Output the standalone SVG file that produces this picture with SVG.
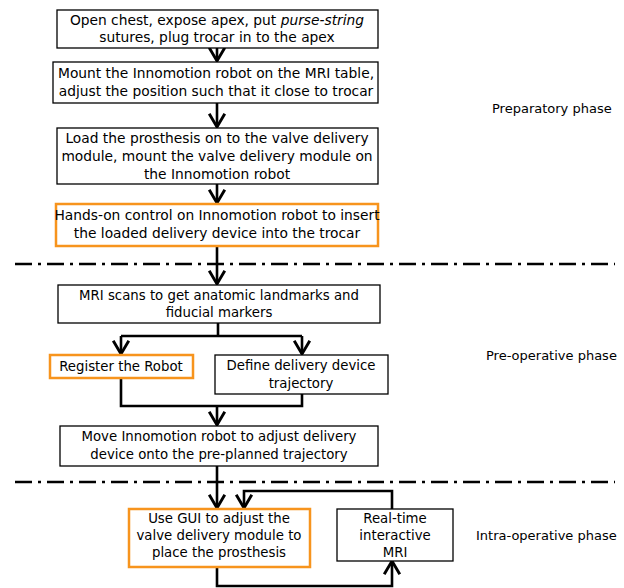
<svg xmlns="http://www.w3.org/2000/svg" width="624" height="588" viewBox="0 0 624 588">
<style>
.box{fill:#fff;stroke:#000;stroke-width:1.3}
.hl{fill:#fff;stroke:#F7941D;stroke-width:2.5}
text{font-family:"DejaVu Sans",Verdana,sans-serif;font-size:13.8px;fill:#000;text-anchor:middle}
.lo text{font-size:13.3px}
text.lbl{font-size:13px;text-anchor:start}
.c{fill:none;stroke:#000;stroke-width:2.6}
.dd{fill:none;stroke:#000;stroke-width:2.6;stroke-dasharray:17 6 3 6}
</style>
<defs>
<marker id="v" markerUnits="userSpaceOnUse" markerWidth="20" markerHeight="20" viewBox="-13 -9 15 18" refX="0" refY="0" orient="auto">
<path d="M-12,-7 L0,0 L-12,7" fill="none" stroke="#000" stroke-width="2.6"/>
</marker>
</defs>
<g id="phase-lines">
<line class="dd" x1="15" y1="264" x2="615" y2="264"/>
<line class="dd" x1="15" y1="482" x2="615" y2="482"/>
</g>
<g id="connectors">
<line class="c" x1="217" y1="48" x2="217" y2="61" marker-end="url(#v)"/>
<line class="c" x1="217" y1="103" x2="217" y2="127" marker-end="url(#v)"/>
<line class="c" x1="217" y1="184" x2="217" y2="203" marker-end="url(#v)"/>
<line class="c" x1="217" y1="246" x2="217" y2="284" marker-end="url(#v)"/>
<polyline class="c" points="218,323 218,336"/>
<polyline class="c" points="121,336 302,336"/>
<line class="c" x1="121" y1="336" x2="121" y2="354" marker-end="url(#v)"/>
<line class="c" x1="302" y1="336" x2="302" y2="354" marker-end="url(#v)"/>
<polyline class="c" points="121,378 121,406 302,406 302,394"/>
<line class="c" x1="217" y1="406" x2="217" y2="425" marker-end="url(#v)"/>
<line class="c" x1="217" y1="466" x2="217" y2="508" marker-end="url(#v)"/>
<polyline class="c" points="392,509 392,491 244,491 244,508" marker-end="url(#v)"/>
<polyline class="c" points="217,567 217,586 392,586 392,561" marker-end="url(#v)"/>
</g>
<g id="n1"><rect class="box" x="57" y="10" width="321" height="38"/>
<text x="217" y="25">Open chest, expose apex, put <tspan font-style="italic">purse-string</tspan></text>
<text x="217" y="42">sutures, plug trocar in to the apex</text></g>
<g id="n2"><rect class="box" x="53" y="62" width="325" height="41"/>
<text x="216" y="78">Mount the Innomotion robot on the MRI table,</text>
<text x="216" y="96">adjust the position such that it close to trocar</text></g>
<g id="n3"><rect class="box" x="57" y="128" width="321" height="56"/>
<text x="217" y="143">Load the prosthesis on to the valve delivery</text>
<text x="217" y="161">module, mount the valve delivery module on</text>
<text x="217" y="179">the Innomotion robot</text></g>
<g id="n4"><rect class="hl" x="56" y="204" width="322" height="42"/>
<text x="217" y="220">Hands-on control on Innomotion robot to insert</text>
<text x="217" y="238">the loaded delivery device into the trocar</text></g>
<g class="lo">
<g id="n5"><rect class="box" x="58" y="285" width="322" height="38"/>
<text x="219" y="300">MRI scans to get anatomic landmarks and</text>
<text x="219" y="317">fiducial markers</text></g>
<g id="n6"><rect class="hl" x="50" y="355" width="143" height="23"/>
<text x="121" y="371">Register the Robot</text></g>
<g id="n7"><rect class="box" x="215" y="355" width="173" height="39"/>
<text x="301" y="370">Define delivery device</text>
<text x="301" y="388">trajectory</text></g>
<g id="n8"><rect class="box" x="60" y="426" width="318" height="40"/>
<text x="219" y="441">Move Innomotion robot to adjust delivery</text>
<text x="219" y="459">device onto the pre-planned trajectory</text></g>
<g id="n9"><rect class="hl" x="129" y="509" width="181" height="58"/>
<text x="219" y="523">Use GUI to adjust the</text>
<text x="219" y="540">valve delivery module to</text>
<text x="219" y="557">place the prosthesis</text></g>
<g id="n10"><rect class="box" x="337" y="509" width="116" height="52"/>
<text x="395" y="523">Real-time</text>
<text x="395" y="540">interactive</text>
<text x="395" y="557">MRI</text></g>
</g>
<g id="labels">
<text class="lbl" x="492" y="113">Preparatory phase</text>
<text class="lbl" x="486" y="360">Pre-operative phase</text>
<text class="lbl" x="476" y="540">Intra-operative phase</text>
</g>
</svg>
